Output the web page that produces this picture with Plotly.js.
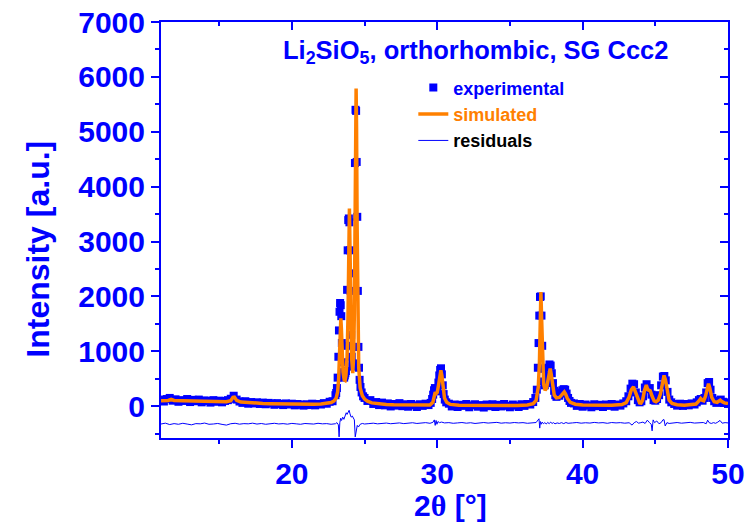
<!DOCTYPE html>
<html>
<head>
<meta charset="utf-8">
<script src="https://cdn.plot.ly/plotly-3.0.1.min.js"></script>
<style>html,body{margin:0;padding:0;background:#fff;}</style>
</head>
<body>
<div id="chart" style="width:749px;height:527px;"></div>
<script>
// Experimental pattern (2theta, intensity)
const expX = [
11.0,11.2,11.4,11.6,11.8,12.0,12.2,12.4,12.6,12.8,13.0,13.2,13.4,13.6,13.8,14.0,14.2,14.4,14.6,14.8,
15.0,15.2,15.4,15.6,15.8,16.0,16.2,16.4,16.6,16.8,17.0,17.2,17.4,17.6,17.8,18.0,18.2,18.4,18.6,18.8,
19.0,19.2,19.4,19.6,19.8,20.0,20.2,20.4,20.6,20.8,21.0,21.2,21.4,21.6,21.8,22.0,22.2,22.4,22.6,22.8,
23.0,23.05,23.1,23.15,23.2,23.24,23.28,23.32,23.36,23.40,23.44,23.48,23.52,23.56,23.6,23.64,23.68,
23.72,23.76,23.80,23.84,23.88,23.92,23.96,24.00,24.04,24.08,24.12,24.16,24.19,
24.22,24.26,24.30,24.34,24.38,24.42,24.46,24.50,24.54,24.58,24.62,24.66,24.72,24.8,24.9,
25.0,25.2,25.4,25.6,25.8,26.0,26.2,26.4,26.6,26.8,27.0,27.2,27.4,27.6,27.8,28.0,28.2,28.4,28.6,28.8,29.0,29.2,29.4,
29.55,29.65,29.72,29.78,29.84,29.9,29.96,30.02,30.08,30.14,30.2,30.26,30.32,30.38,30.44,30.52,30.62,
30.8,31.0,31.2,31.4,31.6,31.8,32.0,32.2,32.4,32.6,32.8,33.0,33.2,33.4,33.6,33.8,34.0,34.2,34.4,34.6,34.8,35.0,35.2,35.4,35.6,35.8,36.0,36.2,36.4,
36.6,36.75,36.85,36.92,36.97,37.02,37.07,37.12,37.17,37.22,37.27,37.33,37.4,37.48,37.56,37.64,37.72,37.8,37.88,37.96,38.04,38.12,38.2,38.3,38.4,38.5,38.6,38.7,38.8,38.9,39.0,39.1,39.2,
39.4,39.6,39.8,40.0,40.2,40.4,40.6,40.8,41.0,41.2,41.4,41.6,41.8,42.0,42.2,42.4,42.6,42.8,
43.0,43.15,43.3,43.42,43.54,43.66,43.8,43.92,44.04,44.16,44.28,44.4,44.52,44.62,44.74,44.88,45.0,45.12,45.26,45.4,45.52,45.62,45.72,45.84,45.96,
46.1,46.3,46.5,46.7,46.9,47.1,47.3,47.5,47.7,47.85,48.0,48.12,48.25,48.38,48.5,48.6,48.7,48.8,48.92,49.05,49.2,49.35,49.5,49.65,49.8,50.0
];
const expY = [
120,85,130,150,100,125,80,110,95,130,75,115,90,120,70,105,95,65,110,80,
100,70,95,110,135,190,120,85,60,90,45,75,50,70,40,65,35,60,50,25,
55,40,20,50,30,45,15,40,25,10,35,20,45,15,40,30,55,45,80,90,
200,240,330,520,900,1380,1720,1880,1840,1640,1150,800,620,540,520,560,600,
640,1100,2120,2840,3390,3420,3350,2840,2100,1300,900,760,720,
780,1080,2420,4430,5400,5380,4450,3450,2100,1080,700,480,350,250,180,
150,95,110,40,75,20,65,15,50,-5,40,10,55,0,35,-10,40,15,-15,35,5,45,20,
60,130,210,290,330,300,270,320,430,560,660,690,580,380,220,120,70,
45,-5,30,-15,25,5,40,-20,15,35,-10,20,-25,30,0,35,-15,25,-5,40,5,-20,30,10,-15,35,5,40,30,
75,150,300,700,1150,1650,1990,2000,1650,1100,680,450,380,430,560,700,760,740,600,420,280,200,170,210,190,250,290,310,300,230,150,95,60,
50,5,40,-10,30,10,-20,35,0,25,-15,30,5,40,-10,30,10,50,
90,180,320,410,400,250,110,70,90,180,340,400,310,330,210,110,100,130,200,380,540,550,470,260,120,
70,40,10,45,5,40,15,50,30,70,110,130,100,150,250,420,440,300,150,90,60,100,120,80,70,40
];

// Simulated pattern
const simX = [
11.0,11.5,11.7,11.9,12.5,13.0,13.5,14.0,14.5,15.0,15.5,15.8,15.95,16.05,16.2,16.5,17.0,17.5,18.0,18.5,19.0,19.5,20.0,20.5,21.0,21.5,22.0,22.4,22.7,22.9,
23.05,23.15,23.22,23.28,23.33,23.37,23.41,23.46,23.52,23.6,23.66,23.72,23.8,23.86,23.91,23.96,24.01,24.06,24.12,24.19,
24.25,24.3,24.35,24.39,24.42,24.45,24.49,24.54,24.6,24.7,24.85,25.0,25.2,25.5,26.0,26.5,27.0,28.0,29.0,29.5,
29.7,29.8,29.86,29.93,30.0,30.1,30.18,30.25,30.32,30.4,30.5,30.65,30.9,31.5,32.5,33.5,34.5,35.5,36.2,36.6,
36.8,36.95,37.03,37.08,37.13,37.18,37.24,37.32,37.42,37.52,37.62,37.7,37.77,37.84,37.93,38.05,38.2,38.4,38.55,38.66,
38.74,38.83,38.95,39.15,39.5,40.0,41.0,42.0,42.7,43.0,43.2,43.35,43.5,43.62,43.78,43.92,44.02,44.12,44.25,44.38,
44.48,44.57,44.65,44.78,44.92,45.05,45.2,45.35,45.5,45.6,45.7,45.82,45.95,46.15,46.5,47.0,47.5,47.8,48.0,48.12,
48.22,48.33,48.45,48.58,48.66,48.75,48.88,49.05,49.25,49.38,49.47,49.58,49.75,50.0
];
const simY = [
100,104,125,104,98,94,90,86,82,80,80,100,160,165,105,75,62,55,50,46,42,39,36,33,32,33,38,48,65,95,
150,260,500,950,1400,1600,1400,950,620,480,470,560,900,1600,2600,3600,2700,1600,850,600,
900,1700,3300,5100,5790,5100,3300,1500,700,330,190,130,90,60,42,32,26,20,16,20,
70,170,255,230,250,400,580,655,560,330,150,70,32,18,13,12,12,13,20,45,
105,350,800,1500,2080,1600,800,400,290,330,470,640,685,580,360,200,150,160,200,250,
260,220,140,70,35,20,14,15,30,65,165,300,350,270,120,60,55,100,280,385,
300,290,280,180,95,80,110,220,480,560,480,250,110,50,25,18,22,40,95,140,
110,100,180,360,410,330,160,80,70,95,110,85,60,50
];

// Residuals (experimental - simulated, shifted down)
const resX = [
11.0,11.3,11.6,11.9,12.2,12.5,12.8,13.1,13.4,13.7,14.0,14.3,14.6,14.9,15.2,15.5,15.8,16.1,16.4,16.7,
17.0,17.3,17.6,17.9,18.2,18.5,18.8,19.1,19.4,19.7,20.0,20.3,20.6,20.9,21.2,21.5,21.8,22.1,22.4,22.7,
23.0,23.1,23.2,23.25,23.3,23.36,23.42,23.5,23.58,23.66,23.74,23.8,23.87,23.94,24.0,24.08,24.16,24.24,24.3,24.36,24.42,24.5,24.58,24.7,24.85,25.0,
25.3,25.6,25.9,26.2,26.5,26.8,27.1,27.4,27.7,28.0,28.3,28.6,28.9,29.2,29.5,
29.7,29.8,29.86,29.92,29.98,30.05,30.15,30.3,30.5,
30.8,31.1,31.4,31.7,32.0,32.3,32.6,32.9,33.2,33.5,33.8,34.1,34.4,34.7,35.0,35.3,35.6,35.9,36.2,36.5,36.8,
37.0,37.05,37.1,37.15,37.22,37.3,37.4,37.5,37.6,37.7,37.8,37.9,38.0,38.1,38.25,38.4,38.55,38.7,38.85,39.0,
39.3,39.6,39.9,40.2,40.5,40.8,41.1,41.4,41.7,42.0,42.3,42.6,42.9,43.2,
43.4,43.55,43.7,43.85,44.0,44.15,44.3,44.45,44.6,44.72,44.78,44.85,44.95,45.1,45.25,45.4,45.52,45.6,45.68,45.8,45.95,
46.2,46.5,46.8,47.1,47.4,47.7,48.0,48.3,
48.5,48.6,48.7,48.85,49.0,49.15,49.3,49.45,49.6,49.8,50.0
];
const resY = [
-325,-310,-335,-318,-330,-312,-326,-340,-318,-322,-308,-330,-325,-315,-332,-345,-320,-312,-328,-318,
-322,-310,-326,-316,-330,-320,-312,-324,-318,-328,-314,-322,-330,-316,-320,-326,-312,-322,-318,-330,
-320,-300,-340,-560,-300,-220,-260,-200,-240,-170,-120,-150,-90,-75,-140,-200,-180,-230,-250,-560,-420,-350,-380,-330,-315,-325,
-318,-310,-322,-315,-308,-320,-312,-305,-318,-310,-302,-315,-308,-300,-312,
-295,-250,-350,-260,-330,-280,-300,-290,-305,
-300,-312,-305,-298,-310,-302,-315,-305,-298,-308,-300,-295,-310,-302,-308,-298,-305,-300,-312,-303,-298,
-230,-400,-280,-330,-290,-320,-300,-325,-295,-320,-290,-315,-300,-322,-305,-315,-300,-318,-298,-312,
-305,-298,-310,-302,-308,-296,-305,-300,-312,-298,-305,-300,-310,-302,
-345,-300,-280,-310,-300,-290,-315,-255,-300,-330,-450,-250,-300,-270,-320,-300,-250,-245,-360,-300,-315,
-305,-298,-310,-300,-295,-308,-302,-298,
-320,-255,-300,-315,-300,-312,-290,-260,-310,-300,-305
];

const xTickVals = [20, 30, 40, 50];
const yTickVals = [0, 1000, 2000, 3000, 4000, 5000, 6000, 7000];

const BLUE = '#0000ff';
const ORANGE = '#ff8000';
const FONT = 'Liberation Sans, Arial, Helvetica, sans-serif';

const traces = [
  {x: expX, y: expY, type: 'scatter', mode: 'markers', name: 'experimental',
   marker: {symbol: 'square', size: 8, color: BLUE, line: {width: 0}}},
  {x: simX, y: simY, type: 'scatter', mode: 'lines', name: '<span style="color:#ff8000">simulated</span>',
   line: {color: ORANGE, width: 3.5}},
  {x: resX, y: resY, type: 'scatter', mode: 'lines', name: '<span style="color:#000000">residuals</span>',
   line: {color: BLUE, width: 1}},
  {x: [], y: [], xaxis: 'x2', yaxis: 'y2', showlegend: false, hoverinfo: 'skip'}
];

const axisCommon = {
  showline: true, linecolor: BLUE, linewidth: 2, showgrid: false, zeroline: false,
  tickcolor: BLUE, tickwidth: 2, ticklen: 8,
  tickfont: {family: FONT, size: 30, color: BLUE, weight: 'bold'}
};

const layout = {
  width: 749, height: 527,
  margin: {l: 161, r: 21, t: 22, b: 89, pad: 0},
  paper_bgcolor: '#ffffff', plot_bgcolor: '#ffffff',
  showlegend: true,
  legend: {x: 0.445, y: 0.886, xanchor: 'left', yanchor: 'top', bgcolor: 'rgba(0,0,0,0)',
           font: {family: FONT, size: 18, color: BLUE, weight: 'bold'}, tracegroupgap: 0},
  xaxis: Object.assign({}, axisCommon, {range: [11, 50], tickvals: xTickVals, ticks: 'outside',
          minor: {dtick: 5, tick0: 0, ticklen: 4, tickwidth: 2, tickcolor: BLUE, ticks: 'outside'}}),
  yaxis: Object.assign({}, axisCommon, {range: [-580, 7000], tickvals: yTickVals, ticks: 'outside',
          minor: {dtick: 500, tick0: 0, ticklen: 4, tickwidth: 2, tickcolor: BLUE, ticks: 'outside'}}),
  xaxis2: Object.assign({}, axisCommon, {range: [11, 50], overlaying: 'x', side: 'top', anchor: 'y2',
          tickvals: [20, 30, 40, 50], ticks: 'inside', showticklabels: false,
          minor: {dtick: 5, tick0: 0, ticklen: 4, tickwidth: 2, tickcolor: BLUE, ticks: 'inside'}}),
  yaxis2: Object.assign({}, axisCommon, {range: [-580, 7000], overlaying: 'y', side: 'right', anchor: 'x2',
          tickvals: yTickVals, ticks: 'inside', showticklabels: false,
          minor: {dtick: 500, tick0: 0, ticklen: 4, tickwidth: 2, tickcolor: BLUE, ticks: 'inside'}}),
  annotations: [
    {text: 'Li<sub>2</sub>SiO<sub>5</sub>, orthorhombic, SG Ccc2', xref: 'paper', yref: 'paper',
     x: 0.554, y: 0.928, xanchor: 'center', yanchor: 'middle', showarrow: false,
     font: {family: FONT, size: 25.5, color: BLUE, weight: 'bold'}},
    {text: 'Intensity [a.u.]', xref: 'paper', yref: 'paper', x: -0.216, y: 0.454,
     xanchor: 'center', yanchor: 'middle', textangle: -90, showarrow: false,
     font: {family: FONT, size: 32, color: BLUE, weight: 'bold'}},
    {text: '2<span style="font-family:Liberation Serif">θ</span> [°]', xref: 'paper', yref: 'paper', x: 0.51, y: -0.162,
     xanchor: 'center', yanchor: 'middle', showarrow: false,
     font: {family: FONT, size: 30, color: BLUE, weight: 'bold'}}
  ]
};

Plotly.newPlot('chart', traces, layout, {displayModeBar: false, staticPlot: true});
</script>
</body>
</html>
